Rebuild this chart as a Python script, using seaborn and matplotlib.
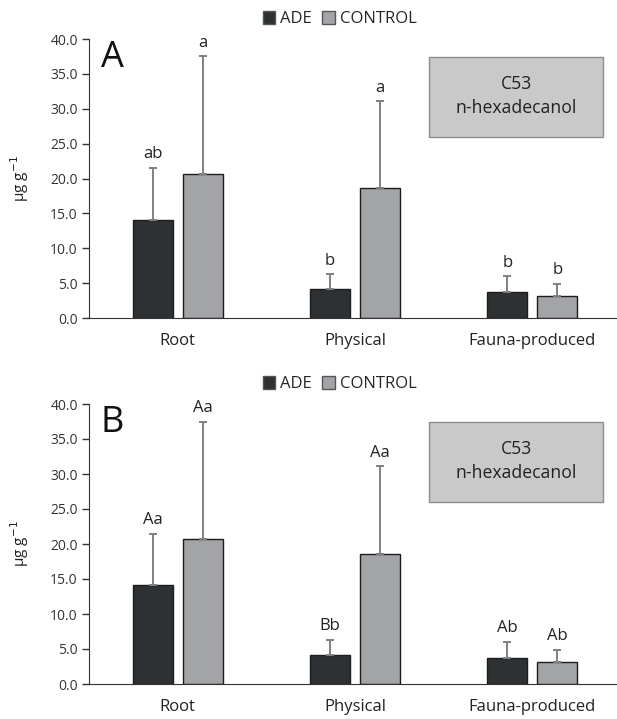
import numpy as np
import pandas as pd
import matplotlib
matplotlib.use("Agg")
import matplotlib.pyplot as plt
import matplotlib.patches as mpatches
import seaborn as sns

fractions = ["Root", "Physical", "Fauna-produced"]
treatments = ["ADE", "CONTROL"]
ade_mean = [14.1, 4.2, 3.7]
ade_err = [7.4, 2.1, 2.3]
control_mean = [20.7, 18.6, 3.1]
control_err = [16.8, 12.5, 1.8]
letters_A = {"ADE": ["ab", "b", "b"], "CONTROL": ["a", "a", "b"]}
letters_B = {"ADE": ["Aa", "Bb", "Ab"], "CONTROL": ["Aa", "Aa", "Ab"]}
y_ticks = [0, 5, 10, 15, 20, 25, 30, 35, 40]

sns.set_style("white")
plt.rcParams["font.family"] = ["Open Sans", "DejaVu Sans"]

df = pd.DataFrame({
    "fraction": fractions * 2,
    "treatment": ["ADE"] * 3 + ["CONTROL"] * 3,
    "value": ade_mean + control_mean,
    "err": ade_err + control_err,
})

colors = {"ADE": "#2e3133", "CONTROL": "#a2a4a7"}

fig = plt.figure(figsize=(6.17, 7.19), dpi=100)
ax1 = fig.add_axes([89 / 617, 1 - 318 / 719, 1 - 89 / 617, 279 / 719])
ax2 = fig.add_axes([89 / 617, 1 - 684 / 719, 1 - 89 / 617, 280 / 719])


def draw_panel(ax, panel, letters):
    sns.barplot(data=df, x="fraction", y="value", hue="treatment",
                order=fractions, hue_order=treatments, palette=colors,
                width=0.565, gap=0.2, edgecolor="#1c1c1c", linewidth=1.0,
                saturation=1, errorbar=None, legend=False, ax=ax)
    for cont, tr in zip(ax.containers, treatments):
        sub = df[df["treatment"] == tr].set_index("fraction").loc[fractions]
        xs = [p.get_x() + p.get_width() / 2 for p in cont.patches]
        hs = [p.get_height() for p in cont.patches]
        ax.errorbar(xs, hs, yerr=[np.zeros(3), sub["err"].values], fmt="none",
                    ecolor="#808080", elinewidth=1.4, capsize=3, capthick=1.4,
                    zorder=1)
        for x, h, e, lab in zip(xs, hs, sub["err"].values, letters[tr]):
            ax.annotate(lab, (x, h + e), xytext=(0, 4), textcoords="offset points",
                        ha="center", va="bottom", fontsize=12, color="#222222")
    ax.set_ylim(0, 40)
    ax.set_xlim(-0.5, 2.478)
    ax.set_yticks(y_ticks)
    ax.set_yticklabels([f"{v:.1f}" for v in y_ticks], fontsize=10, color="#333333")
    ax.tick_params(axis="y", direction="out", length=5, width=1, color="#333333",
                   left=True, pad=3)
    ax.tick_params(axis="x", length=0, pad=11, labelsize=12, labelcolor="#222222")
    ax.set_xlabel("")
    ax.set_ylabel("µg g$^{-1}$", fontsize=11, color="#222222", labelpad=14)
    sns.despine(ax=ax)
    ax.spines["left"].set_color("#333333")
    ax.spines["bottom"].set_color("#333333")
    ax.text(0.022, 0.995, panel, transform=ax.transAxes, fontsize=26,
            ha="left", va="top", color="#111111")
    box = mpatches.FancyBboxPatch((340 / 528, 1 - (137 - 39) / 279),
                                  174 / 528, 80 / 279, boxstyle="square,pad=0",
                                  transform=ax.transAxes, facecolor="#c9c9c9",
                                  edgecolor="#8c8c8c", linewidth=1.0)
    ax.add_patch(box)
    ax.text((340 + 87) / 528, 1 - (96 - 39) / 279, "C53\nn-hexadecanol",
            transform=ax.transAxes, ha="center", va="center", fontsize=12.7,
            color="#222222", linespacing=1.45)
    handles = [mpatches.Patch(facecolor=colors[t], edgecolor="#555555", label=t)
               for t in treatments]
    ax.legend(handles=handles, loc="lower center", bbox_to_anchor=(0.475, 1.0),
              ncol=2, frameon=False, fontsize=12, handlelength=0.75,
              handleheight=0.75, handletextpad=0.3, columnspacing=0.6,
              borderaxespad=0.3)


draw_panel(ax1, "A", letters_A)
draw_panel(ax2, "B", letters_B)

fig.savefig("out.png", dpi=100)
